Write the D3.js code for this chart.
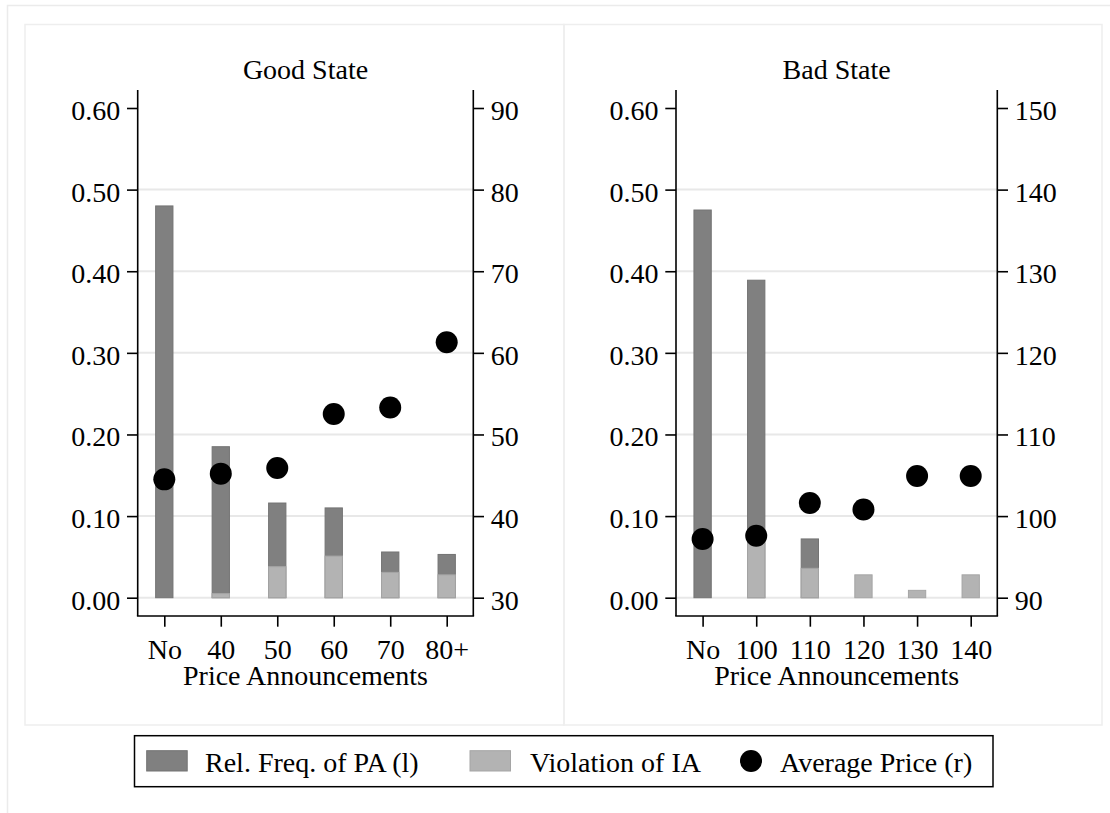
<!DOCTYPE html>
<html>
<head>
<meta charset="utf-8">
<script src="https://cdn.jsdelivr.net/npm/d3@7"></script>
<style>
  html, body { margin: 0; padding: 0; background: #fff; }
  svg { display: block; font-family: "Liberation Serif", "Times New Roman", serif; }
</style>
</head>
<body>
<svg id="chart" width="1110" height="813"></svg>
<script>
// Good state: announced price categories and outcomes
const goodCats = ["No", "40", "50", "60", "70", "80+"];
const goodFreq = [0.480, 0.185, 0.116, 0.110, 0.056, 0.053];
const goodViolation = [0.000, 0.005, 0.038, 0.051, 0.031, 0.028];
const goodPrice = [44.5, 45.2, 45.9, 52.5, 53.3, 61.3];

// Bad state
const badCats = ["No", "100", "110", "120", "130", "140"];
const badFreq = [0.475, 0.389, 0.072, 0.000, 0.000, 0.000];
const badViolation = [0.000, 0.067, 0.036, 0.028, 0.009, 0.028];
const badPrice = [97.2, 97.6, 101.6, 100.8, 104.9, 104.9];

// Axis ticks
const leftTicks = [0, 0.1, 0.2, 0.3, 0.4, 0.5, 0.6];
const goodPriceTicks = [30, 40, 50, 60, 70, 80, 90];
const badPriceTicks = [90, 100, 110, 120, 130, 140, 150];
const gridTicks = [0, 0.1, 0.2, 0.3, 0.4, 0.5];

const legendLabels = ["Rel. Freq. of PA (l)", "Violation of IA", "Average Price (r)"];

const FONT = 28;
const DARK = "#808080", DARK_EDGE = "#737373";
const LIGHT = "#b3b3b3", LIGHT_EDGE = "#a5a5a5";

const svg = d3.select("#chart");

// outer frame and panel frames
svg.append("rect").attr("x", 7.5).attr("y", 5.5).attr("width", 1120).attr("height", 830)
  .attr("fill", "none").attr("stroke", "#ebebeb").attr("stroke-width", 1.5);
svg.append("rect").attr("x", 25).attr("y", 24.5).attr("width", 539).attr("height", 700.5)
  .attr("fill", "none").attr("stroke", "#eeeeee").attr("stroke-width", 1.5);
svg.append("rect").attr("x", 564).attr("y", 24.5).attr("width", 538).attr("height", 700.5)
  .attr("fill", "none").attr("stroke", "#eeeeee").attr("stroke-width", 1.5);

const plotTop = 90, plotBottom = 616;
const yZero = 597.7, ySix = 108;
const tickLen = 10.7, tickPad = 6.7;

const panels = [
  { title: "Good State", cats: goodCats, freq: goodFreq, viol: goodViolation, price: goodPrice,
    priceTicks: goodPriceTicks, left: 137.7, right: 473.3 },
  { title: "Bad State", cats: badCats, freq: badFreq, viol: badViolation, price: badPrice,
    priceTicks: badPriceTicks, left: 676, right: 997.3 }
];

const yLeft = d3.scaleLinear().domain([0, 0.6]).range([yZero, ySix]);

panels.forEach(p => {
  const g = svg.append("g");
  const yRight = d3.scaleLinear()
    .domain([p.priceTicks[0], p.priceTicks[p.priceTicks.length - 1]])
    .range([yZero, ySix]);
  const inset = 26.6;
  const x = d3.scalePoint().domain(p.cats).range([p.left + inset, p.right - inset]);
  const cx = (p.left + p.right) / 2;

  // grid
  g.append("g").selectAll("line").data(gridTicks).join("line")
    .attr("x1", p.left).attr("x2", p.right)
    .attr("y1", d => yLeft(d)).attr("y2", d => yLeft(d))
    .attr("stroke", "#e8e8e8").attr("stroke-width", 2);

  const barW = 17.3;
  const rows = p.cats.map((c, i) => ({ c, f: p.freq[i], v: p.viol[i], pr: p.price[i] }));

  // relative frequency bars
  g.append("g").selectAll("rect").data(rows.filter(d => d.f > 0)).join("rect")
    .attr("x", d => x(d.c) - barW / 2).attr("width", barW)
    .attr("y", d => yLeft(d.f)).attr("height", d => yLeft(0) - yLeft(d.f))
    .attr("fill", DARK).attr("stroke", DARK_EDGE).attr("stroke-width", 1);

  // violation bars
  g.append("g").selectAll("rect").data(rows.filter(d => d.v > 0)).join("rect")
    .attr("x", d => x(d.c) - barW / 2).attr("width", barW)
    .attr("y", d => yLeft(d.v)).attr("height", d => yLeft(0) - yLeft(d.v))
    .attr("fill", LIGHT).attr("stroke", LIGHT_EDGE).attr("stroke-width", 1);

  // average price markers
  g.append("g").selectAll("circle").data(rows).join("circle")
    .attr("cx", d => x(d.c)).attr("cy", d => yRight(d.pr)).attr("r", 11)
    .attr("fill", "#000");

  // left axis
  const la = g.append("g").attr("transform", `translate(${p.left},0)`)
    .call(d3.axisLeft(yLeft).tickValues(leftTicks).tickFormat(d3.format(".2f"))
      .tickSize(tickLen).tickPadding(tickPad));
  la.select(".domain").remove();

  // right axis
  const ra = g.append("g").attr("transform", `translate(${p.right},0)`)
    .call(d3.axisRight(yRight).tickValues(p.priceTicks).tickFormat(d3.format("d"))
      .tickSize(tickLen).tickPadding(tickPad));
  ra.select(".domain").remove();

  // x axis
  const xa = g.append("g").attr("transform", `translate(0,${plotBottom})`)
    .call(d3.axisBottom(x).tickSize(tickLen).tickPadding(12.7));
  xa.select(".domain").remove();

  [la, ra, xa].forEach(a => {
    a.selectAll(".tick line").attr("stroke", "#000").attr("stroke-width", 1.6);
    a.selectAll(".tick text").attr("fill", "#000").style("font-size", FONT + "px")
      .style("font-family", "'Liberation Serif', 'Times New Roman', serif");
  });
  la.selectAll(".tick text").attr("dy", "0.41em");
  ra.selectAll(".tick text").attr("dy", "0.41em");

  // axis lines
  g.append("line").attr("x1", p.left).attr("x2", p.left).attr("y1", plotTop).attr("y2", plotBottom)
    .attr("stroke", "#000").attr("stroke-width", 1.6);
  g.append("line").attr("x1", p.right).attr("x2", p.right).attr("y1", plotTop).attr("y2", plotBottom)
    .attr("stroke", "#000").attr("stroke-width", 1.6);
  g.append("line").attr("x1", p.left - 0.8).attr("x2", p.right + 0.8).attr("y1", plotBottom).attr("y2", plotBottom)
    .attr("stroke", "#000").attr("stroke-width", 1.6);

  // titles
  g.append("text").attr("x", cx).attr("y", 79).attr("text-anchor", "middle")
    .style("font-size", FONT + "px").text(p.title);
  g.append("text").attr("x", cx).attr("y", 685).attr("text-anchor", "middle")
    .style("font-size", FONT + "px").text("Price Announcements");
});

// legend
const lg = svg.append("g");
lg.append("rect").attr("x", 134.5).attr("y", 735.7).attr("width", 858.5).attr("height", 51)
  .attr("fill", "#fff").attr("stroke", "#000").attr("stroke-width", 1.5);
const keyX = [146.7, 470, 740];
const textX = [205, 530, 780];
const keyStyles = [
  { type: "rect", fill: DARK, stroke: DARK_EDGE },
  { type: "rect", fill: LIGHT, stroke: LIGHT_EDGE },
  { type: "circle", fill: "#000" }
];
legendLabels.forEach((label, i) => {
  const k = keyStyles[i];
  if (k.type === "rect") {
    lg.append("rect").attr("x", keyX[i]).attr("y", 750.7).attr("width", 40.5).attr("height", 20.3)
      .attr("fill", k.fill).attr("stroke", k.stroke).attr("stroke-width", 1);
  } else {
    lg.append("circle").attr("cx", keyX[i] + 11).attr("cy", 761).attr("r", 11).attr("fill", k.fill);
  }
  lg.append("text").attr("x", textX[i]).attr("y", 772.3)
    .style("font-size", FONT + "px").text(label);
});
</script>
</body>
</html>
